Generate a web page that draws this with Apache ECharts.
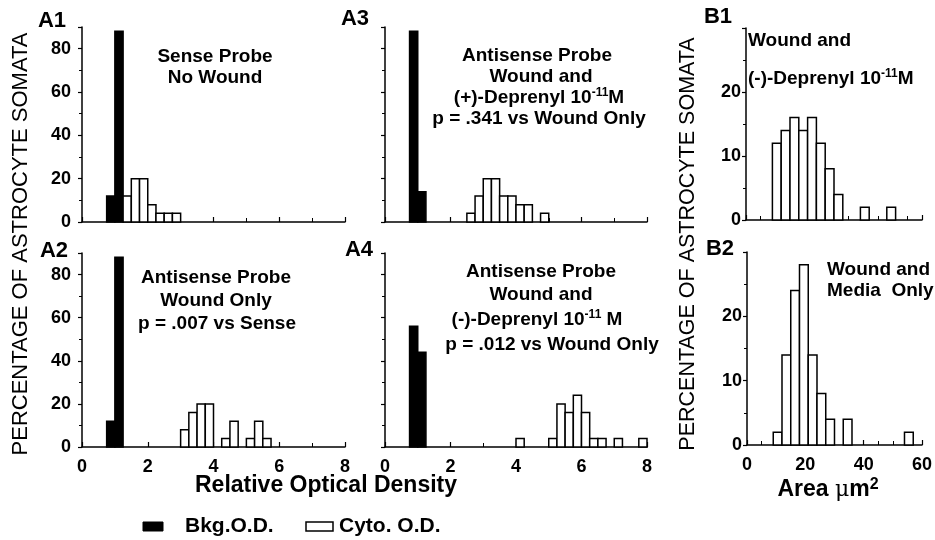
<!DOCTYPE html>
<html><head><meta charset="utf-8">
<script src="https://cdn.jsdelivr.net/npm/echarts@6/dist/echarts.min.js"></script>
<style>html,body{margin:0;padding:0;background:#fff}#c{width:935px;height:540px}</style>
</head><body><div id="c"></div>
<script>
// ---- data (bin start, bin height in %) ----
const odBinWidth = 0.25;
const areaBinWidth = 3;
const odTicks = [0, 2, 4, 6, 8];
const areaTicks = [0, 20, 40, 60];

const a1BkgStart = [0.75, 1.0];
const a1BkgPct = [12, 88];
const a1CytoStart = [1.25, 1.5, 1.75, 2.0, 2.25, 2.5, 2.75];
const a1CytoPct = [12, 20, 20, 8, 4, 4, 4];

const a2BkgStart = [0.75, 1.0];
const a2BkgPct = [12, 88];
const a2CytoStart = [3.0, 3.25, 3.5, 3.75, 4.25, 4.5, 5.0, 5.25, 5.5];
const a2CytoPct = [8, 16, 20, 20, 4, 12, 4, 12, 4];

const a3BkgStart = [0.75, 1.0];
const a3BkgPct = [88, 14];
const a3CytoStart = [2.5, 2.75, 3.0, 3.25, 3.5, 3.75, 4.0, 4.25, 4.75];
const a3CytoPct = [4, 12, 20, 20, 12, 12, 8, 8, 4];

const a4BkgStart = [0.75, 1.0];
const a4BkgPct = [56, 44];
const a4CytoStart = [4.0, 5.0, 5.25, 5.5, 5.75, 6.0, 6.25, 6.5, 7.0, 7.75];
const a4CytoPct = [4, 4, 20, 16, 24, 16, 4, 4, 4, 4];

const b1AreaStart = [9, 12, 15, 18, 21, 24, 27, 30, 39, 48];
const b1AreaPct = [12, 14, 16, 14, 16, 12, 8, 4, 2, 2];

const b2AreaStart = [9, 12, 15, 18, 21, 24, 27, 33, 54];
const b2AreaPct = [2, 14, 24, 28, 14, 8, 4, 4, 2];

// ---- build ----
const FF = "'Liberation Sans', Arial, Helvetica, sans-serif";
function bins(starts, vals, w) { return starts.map((s, i) => [s, s + w, vals[i]]); }

function renderBar(fill) {
  return function (params, api) {
    const p0 = api.coord([api.value(0), api.value(2)]);
    const p1 = api.coord([api.value(1), 0]);
    return {
      type: 'rect',
      shape: { x: p0[0], y: p0[1], width: p1[0] - p0[0], height: p1[1] - p0[1] },
      style: { fill: fill, stroke: '#000', lineWidth: 1.5 }
    };
  };
}
function barSeries(name, idx, data, fill) {
  return {
    type: 'custom', name: name, xAxisIndex: idx, yAxisIndex: idx,
    renderItem: renderBar(fill), data: data, encode: { x: [0, 1], y: 2 }, clip: false,
    itemStyle: { color: fill, borderColor: '#000' }, silent: true
  };
}

const grids = [
  { left: 82, top: 27, width: 263, height: 195 },
  { left: 82, top: 253, width: 263, height: 194 },
  { left: 385, top: 27, width: 262, height: 195 },
  { left: 385, top: 253, width: 262, height: 194 },
  { left: 746, top: 28, width: 176, height: 192 },
  { left: 747, top: 252, width: 175, height: 193 }
];
const axLine = { show: true, lineStyle: { color: '#000', width: 1.5 } };
const lblStyle = { color: '#000', fontFamily: FF, fontWeight: 'bold', fontSize: 18 };

function xAx(idx, isArea, showLabel) {
  const ticks = isArea ? areaTicks : odTicks;
  return {
    type: 'value', gridIndex: idx, min: ticks[0], max: ticks[ticks.length - 1],
    interval: ticks[1] - ticks[0],
    axisLine: axLine,
    axisTick: { show: true, inside: true, length: 5, lineStyle: { color: '#000', width: 1.2 } },
    minorTick: { show: true, splitNumber: isArea ? 4 : 2, length: 4, lineStyle: { color: '#000', width: 1 } },
    splitLine: { show: false },
    axisLabel: Object.assign({ show: showLabel, margin: 11 }, lblStyle)
  };
}
function yAx(idx, isArea, showLabel) {
  return {
    type: 'value', gridIndex: idx, min: 0, max: isArea ? 30 : 90, interval: isArea ? 10 : 20,
    axisLine: axLine,
    axisTick: { show: true, length: 4, lineStyle: { color: '#000', width: 1.2 } },
    minorTick: { show: true, splitNumber: 2, length: 3, lineStyle: { color: '#000', width: 1 } },
    splitLine: { show: false },
    axisLabel: Object.assign({ show: showLabel, margin: isArea ? 5 : 11, showMaxLabel: false }, lblStyle)
  };
}

const BKG = 'Bkg.O.D.', CYTO = 'Cyto. O.D.';
const series = [
  barSeries(BKG, 0, bins(a1BkgStart, a1BkgPct, odBinWidth), '#000'),
  barSeries(CYTO, 0, bins(a1CytoStart, a1CytoPct, odBinWidth), '#fff'),
  barSeries(BKG, 1, bins(a2BkgStart, a2BkgPct, odBinWidth), '#000'),
  barSeries(CYTO, 1, bins(a2CytoStart, a2CytoPct, odBinWidth), '#fff'),
  barSeries(BKG, 2, bins(a3BkgStart, a3BkgPct, odBinWidth), '#000'),
  barSeries(CYTO, 2, bins(a3CytoStart, a3CytoPct, odBinWidth), '#fff'),
  barSeries(BKG, 3, bins(a4BkgStart, a4BkgPct, odBinWidth), '#000'),
  barSeries(CYTO, 3, bins(a4CytoStart, a4CytoPct, odBinWidth), '#fff'),
  barSeries(CYTO, 4, bins(b1AreaStart, b1AreaPct, areaBinWidth), '#fff'),
  barSeries(CYTO, 5, bins(b2AreaStart, b2AreaPct, areaBinWidth), '#fff')
];

const rich = {
  n: { fontFamily: FF, fontWeight: 'bold', fontSize: 19, lineHeight: 22, color: '#000' },
  s: { fontFamily: FF, fontWeight: 'bold', fontSize: 12, lineHeight: 10, verticalAlign: 'top', color: '#000' },
  big: { fontFamily: FF, fontWeight: 'bold', fontSize: 23, lineHeight: 26, color: '#000' },
  mu: { fontFamily: "'DejaVu Serif', serif", fontWeight: 'normal', fontSize: 22, lineHeight: 26, color: '#000' },
  s2: { fontFamily: FF, fontWeight: 'bold', fontSize: 16, lineHeight: 14, verticalAlign: 'top', color: '#000' }
};
function t(x, y, text, align, size, weight) {
  return {
    type: 'text', x: x, y: y, silent: true,
    style: {
      text: text, rich: rich, fill: '#000',
      font: (weight || 'bold') + ' ' + (size || 19) + 'px ' + FF,
      align: align || 'center', textAlign: align || 'center',
      verticalAlign: 'middle', textVerticalAlign: 'middle'
    }
  };
}

const graphic = [
  // panel labels
  t(52, 21, 'A1', 'center', 22), t(54, 251, 'A2', 'center', 22),
  t(355, 19, 'A3', 'center', 22), t(359, 250, 'A4', 'center', 22),
  t(718, 17, 'B1', 'center', 22), t(720, 249, 'B2', 'center', 22),
  // A1
  t(215, 57, 'Sense Probe'), t(215, 78, 'No Wound'),
  // A2
  t(216, 278, 'Antisense Probe'), t(216, 301, 'Wound Only'), t(217, 324, 'p = .007 vs Sense'),
  // A3
  t(537, 56, 'Antisense Probe'), t(541, 77, 'Wound and'),
  t(539, 98, '{n|(+)-Deprenyl 10}{s|-11}{n|M}'), t(539, 119, 'p = .341 vs Wound Only'),
  // A4
  t(541, 272, 'Antisense Probe'), t(541, 295, 'Wound and'),
  t(537, 320, '{n|(-)-Deprenyl 10}{s|-11}{n| M}'), t(552, 345, 'p = .012 vs Wound Only'),
  // B1
  t(748, 41, 'Wound and', 'left'), t(748, 79, '{n|(-)-Deprenyl 10}{s|-11}{n|M}', 'left'),
  // B2
  t(827, 270, 'Wound and', 'left'), t(827, 291, 'Media  Only', 'left'),
  // axis titles
  t(326, 486, 'Relative Optical Density', 'center', 23),
  t(828, 490, '{big|Area }{mu|\u03bc}{big|m}{s2|2}'),
  Object.assign(t(21, 244, 'PERCENTAGE OF ASTROCYTE SOMATA', 'center', 22, 'normal'), { rotation: Math.PI / 2 }),
  Object.assign(t(688, 244, 'PERCENTAGE OF ASTROCYTE SOMATA', 'center', 21.5, 'normal'), { rotation: Math.PI / 2 }),
  // legend
  { type: 'rect', shape: { x: 143, y: 522, width: 20, height: 9 }, style: { fill: '#000', stroke: '#000', lineWidth: 1 }, silent: true },
  t(185, 526, BKG, 'left', 21),
  { type: 'rect', shape: { x: 306, y: 522, width: 27, height: 9 }, style: { fill: '#fff', stroke: '#000', lineWidth: 1.5 }, silent: true },
  t(339, 526, CYTO, 'left', 21)
];

const chart = echarts.init(document.getElementById('c'), null, { renderer: 'canvas' });
chart.setOption({
  backgroundColor: '#fff',
  animation: false,
  grid: grids,
  xAxis: [xAx(0, false, false), xAx(1, false, true), xAx(2, false, false), xAx(3, false, true), xAx(4, true, false), xAx(5, true, true)],
  yAxis: [yAx(0, false, true), yAx(1, false, true), yAx(2, false, false), yAx(3, false, false), yAx(4, true, true), yAx(5, true, true)],
  series: series,
  graphic: graphic
});
</script></body></html>
